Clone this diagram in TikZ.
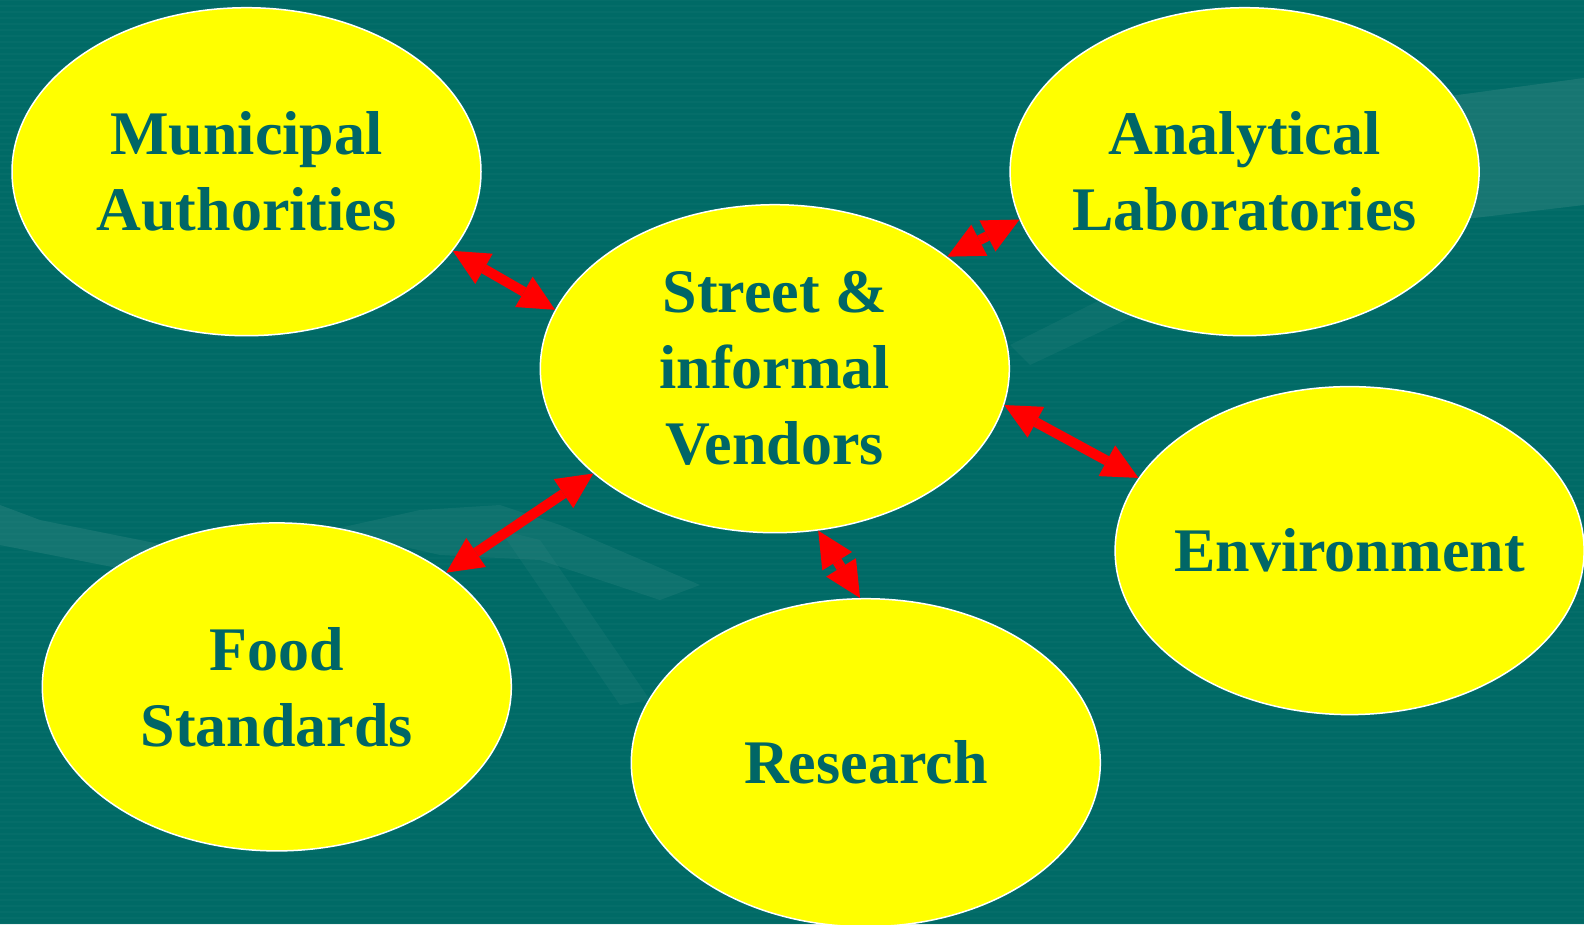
\documentclass[tikz,border=0pt]{standalone}
\usepackage{fontspec}
\setmainfont{Liberation Serif}
\usetikzlibrary{shapes.geometric,arrows.meta}
\definecolor{bgteal}{HTML}{006A66}
\definecolor{txtteal}{HTML}{006666}
\definecolor{swoosh}{HTML}{3A8A86}
\definecolor{bubbleyellow}{HTML}{FFFF00}
\definecolor{arrowred}{HTML}{FF0000}
\tikzset{
    bubble/.style={ellipse, draw=white, line width=1.5pt, fill=bubbleyellow,
        minimum width=469pt, minimum height=328pt, inner xsep=-40pt, inner ysep=0pt,
        text=txtteal, align=center,
        font=\bfseries\fontsize{62}{76}\selectfont},
    link/.style={draw=arrowred, line width=10pt,
        {Triangle[length=36pt,width=35pt,line width=0pt]}-{Triangle[length=36pt,width=35pt,line width=0pt]}}
}
\begin{document}
\begin{tikzpicture}[x=1pt, y=-1pt]
        % background
        \useasboundingbox (0,0) rectangle (1584,924);
        \clip (0,0) rectangle (1584,924);
        \fill[bgteal] (0,0) rectangle (1584,924);
        \foreach \y in {0,6,...,924}
            \draw[swoosh, opacity=0.10, line width=2pt] (0,\y) -- (1584,\y);
        % faint shapes behind the bubbles
        \fill[swoosh, opacity=0.4] (1420,100) -- (1584,78) -- (1584,205) -- (1440,222) -- cycle;
        \fill[swoosh, opacity=0.2] (1010,345) -- (1180,260) -- (1200,285) -- (1030,365) -- cycle;
        \fill[swoosh, opacity=0.35] (0,505) -- (40,520) -- (240,560) -- (230,590) -- (0,545) -- cycle;
        \fill[swoosh, opacity=0.25] (330,530) -- (420,510) -- (500,505) -- (560,525) -- (700,585) -- (660,600) -- (540,560) -- (440,555) -- cycle;
        \fill[swoosh, opacity=0.18] (500,530) -- (540,540) -- (650,700) -- (620,705) -- cycle;

        % the bubbles
        \node[bubble] (municipal)   at (246.5,171.7)  {Municipal\\Authorities};
        \node[bubble] (analytical)  at (1244.6,171.7) {Analytical\\Laboratories};
        \node[bubble] (street)      at (774.8,368.7)  {Street \&\\informal\\ Vendors};
        \node[bubble] (environment) at (1349.6,550.6) {Environment};
        \node[bubble] (food)        at (276.8,686.9)  {Food\\Standards};
        \node[bubble] (research)    at (865.8,762.7)  {Research};

        % two-way arrows
        \draw[link] (municipal.-21.5)  -- (street.165.2);
        \draw[link] (street.33.8)      -- (analytical.192.4);
        \draw[link] (street.-9.1)      -- (environment.161.5);
        \draw[link] (street.-75.7)     -- (research.92.5);
        \draw[link] (food.34.1)        -- (street.210.5);
    \end{tikzpicture}
\end{document}
